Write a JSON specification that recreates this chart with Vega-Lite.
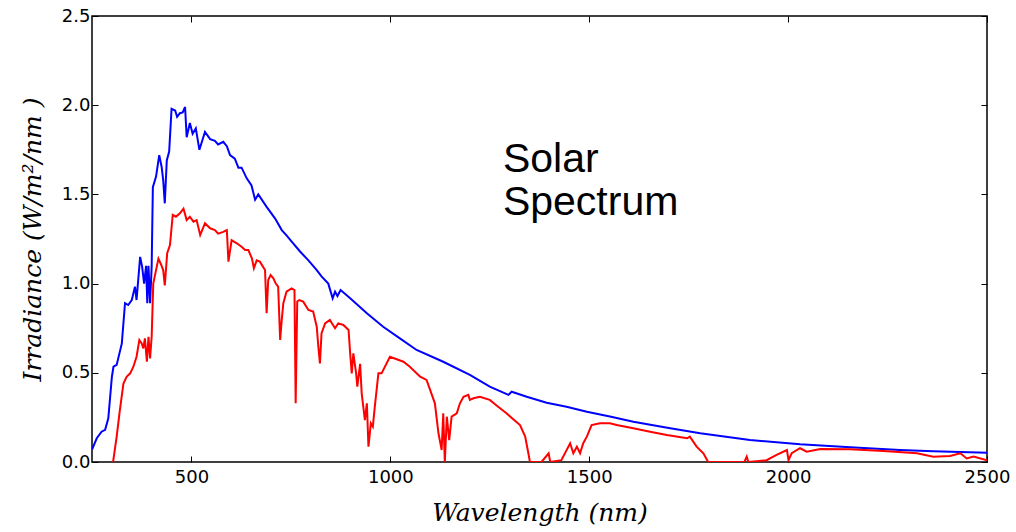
{
  "$schema": "https://vega.github.io/schema/vega-lite/v6.json",
  "width": 895,
  "height": 446,
  "autosize": {"type": "none"},
  "padding": {"left": 92, "top": 16, "right": 29, "bottom": 70},
  "background": "white",
  "config": {
    "view": {"stroke": "black", "strokeWidth": 1.5},
    "axis": {"grid": false, "domain": false, "labelFlush": false, "labelOverlap": false, "tickColor": "black", "tickSize": -6, "tickWidth": 1, "labelColor": "black", "labelFont": "DejaVu Sans", "labelFontSize": 18, "titleColor": "black", "titleFont": "DejaVu Serif", "titleFontStyle": "italic", "titleFontWeight": "normal", "titleFontSize": 25}
  },
  "datasets": {
    "blue": [
      {"nm":250,"irr":0.07},{"nm":262,"irr":0.133},{"nm":274,"irr":0.17},{"nm":283,"irr":0.18},{"nm":291,"irr":0.245},{"nm":300,"irr":0.478},{"nm":304,"irr":0.534},{"nm":312,"irr":0.544},{"nm":325,"irr":0.665},{"nm":333,"irr":0.89},{"nm":341,"irr":0.88},{"nm":350,"irr":0.908},{"nm":358,"irr":0.983},{"nm":362,"irr":0.908},{"nm":371,"irr":1.15},{"nm":376,"irr":1.095},{"nm":381,"irr":1.0},{"nm":386,"irr":1.1},{"nm":389,"irr":0.89},{"nm":392,"irr":1.1},{"nm":396,"irr":0.89},{"nm":400,"irr":1.095},{"nm":403,"irr":1.54},{"nm":411,"irr":1.6},{"nm":419,"irr":1.72},{"nm":425,"irr":1.655},{"nm":429,"irr":1.58},{"nm":433,"irr":1.45},{"nm":438,"irr":1.69},{"nm":444,"irr":1.74},{"nm":450,"irr":1.98},{"nm":459,"irr":1.97},{"nm":464,"irr":1.935},{"nm":471,"irr":1.955},{"nm":478,"irr":1.96},{"nm":484,"irr":1.99},{"nm":488,"irr":1.82},{"nm":496,"irr":1.9},{"nm":503,"irr":1.84},{"nm":511,"irr":1.87},{"nm":520,"irr":1.75},{"nm":534,"irr":1.85},{"nm":547,"irr":1.81},{"nm":559,"irr":1.8},{"nm":567,"irr":1.78},{"nm":580,"irr":1.795},{"nm":589,"irr":1.77},{"nm":597,"irr":1.72},{"nm":609,"irr":1.7},{"nm":618,"irr":1.65},{"nm":626,"irr":1.65},{"nm":639,"irr":1.59},{"nm":651,"irr":1.55},{"nm":660,"irr":1.47},{"nm":668,"irr":1.5},{"nm":689,"irr":1.43},{"nm":710,"irr":1.366},{"nm":727,"irr":1.3},{"nm":739,"irr":1.27},{"nm":752,"irr":1.235},{"nm":773,"irr":1.18},{"nm":794,"irr":1.13},{"nm":815,"irr":1.076},{"nm":827,"irr":1.04},{"nm":844,"irr":1.0},{"nm":855,"irr":0.918},{"nm":861,"irr":0.955},{"nm":867,"irr":0.93},{"nm":875,"irr":0.964},{"nm":899,"irr":0.918},{"nm":941,"irr":0.834},{"nm":982,"irr":0.758},{"nm":1024,"irr":0.693},{"nm":1066,"irr":0.628},{"nm":1133,"irr":0.562},{"nm":1200,"irr":0.488},{"nm":1250,"irr":0.422},{"nm":1297,"irr":0.376},{"nm":1305,"irr":0.394},{"nm":1343,"irr":0.366},{"nm":1393,"irr":0.332},{"nm":1443,"irr":0.31},{"nm":1494,"irr":0.282},{"nm":1552,"irr":0.255},{"nm":1611,"irr":0.226},{"nm":1700,"irr":0.19},{"nm":1779,"irr":0.161},{"nm":1904,"irr":0.123},{"nm":2030,"irr":0.099},{"nm":2156,"irr":0.082},{"nm":2281,"irr":0.067},{"nm":2365,"irr":0.06},{"nm":2500,"irr":0.052}
    ],
    "red": [
      {"nm":303,"irr":0.0},{"nm":312,"irr":0.142},{"nm":320,"irr":0.29},{"nm":329,"irr":0.44},{"nm":337,"irr":0.478},{"nm":346,"irr":0.497},{"nm":354,"irr":0.534},{"nm":362,"irr":0.59},{"nm":369,"irr":0.684},{"nm":375,"irr":0.665},{"nm":379,"irr":0.637},{"nm":383,"irr":0.693},{"nm":388,"irr":0.562},{"nm":392,"irr":0.702},{"nm":396,"irr":0.581},{"nm":400,"irr":0.702},{"nm":404,"irr":1.0},{"nm":417,"irr":1.14},{"nm":423,"irr":1.11},{"nm":429,"irr":1.076},{"nm":433,"irr":0.99},{"nm":439,"irr":1.17},{"nm":446,"irr":1.216},{"nm":453,"irr":1.385},{"nm":461,"irr":1.375},{"nm":471,"irr":1.394},{"nm":480,"irr":1.42},{"nm":488,"irr":1.356},{"nm":496,"irr":1.375},{"nm":505,"irr":1.347},{"nm":513,"irr":1.356},{"nm":522,"irr":1.272},{"nm":534,"irr":1.338},{"nm":547,"irr":1.31},{"nm":559,"irr":1.3},{"nm":567,"irr":1.28},{"nm":580,"irr":1.29},{"nm":589,"irr":1.3},{"nm":593,"irr":1.123},{"nm":601,"irr":1.244},{"nm":614,"irr":1.226},{"nm":626,"irr":1.207},{"nm":635,"irr":1.188},{"nm":643,"irr":1.188},{"nm":652,"irr":1.142},{"nm":657,"irr":1.086},{"nm":664,"irr":1.13},{"nm":672,"irr":1.123},{"nm":685,"irr":1.076},{"nm":689,"irr":0.834},{"nm":693,"irr":1.02},{"nm":699,"irr":1.048},{"nm":706,"irr":1.03},{"nm":712,"irr":1.0},{"nm":718,"irr":0.983},{"nm":723,"irr":0.684},{"nm":727,"irr":0.796},{"nm":731,"irr":0.89},{"nm":739,"irr":0.955},{"nm":752,"irr":0.973},{"nm":759,"irr":0.964},{"nm":762,"irr":0.33},{"nm":766,"irr":0.9},{"nm":771,"irr":0.908},{"nm":781,"irr":0.899},{"nm":794,"irr":0.852},{"nm":806,"irr":0.843},{"nm":815,"irr":0.758},{"nm":819,"irr":0.646},{"nm":823,"irr":0.553},{"nm":827,"irr":0.721},{"nm":836,"irr":0.777},{"nm":848,"irr":0.796},{"nm":861,"irr":0.75},{"nm":869,"irr":0.777},{"nm":882,"irr":0.768},{"nm":895,"irr":0.74},{"nm":899,"irr":0.609},{"nm":903,"irr":0.497},{"nm":907,"irr":0.609},{"nm":914,"irr":0.497},{"nm":917,"irr":0.422},{"nm":924,"irr":0.55},{"nm":928,"irr":0.385},{"nm":936,"irr":0.235},{"nm":941,"irr":0.329},{"nm":945,"irr":0.086},{"nm":951,"irr":0.217},{"nm":956,"irr":0.198},{"nm":961,"irr":0.31},{"nm":970,"irr":0.497},{"nm":978,"irr":0.497},{"nm":999,"irr":0.59},{"nm":1033,"irr":0.562},{"nm":1049,"irr":0.534},{"nm":1075,"irr":0.478},{"nm":1091,"irr":0.46},{"nm":1100,"irr":0.404},{"nm":1112,"irr":0.329},{"nm":1121,"irr":0.161},{"nm":1129,"irr":0.067},{"nm":1133,"irr":0.273},{"nm":1137,"irr":0.0},{"nm":1142,"irr":0.254},{"nm":1148,"irr":0.123},{"nm":1154,"irr":0.254},{"nm":1167,"irr":0.273},{"nm":1175,"irr":0.329},{"nm":1184,"irr":0.366},{"nm":1196,"irr":0.376},{"nm":1200,"irr":0.348},{"nm":1209,"irr":0.357},{"nm":1225,"irr":0.366},{"nm":1250,"irr":0.348},{"nm":1271,"irr":0.31},{"nm":1292,"irr":0.273},{"nm":1309,"irr":0.24},{"nm":1326,"irr":0.207},{"nm":1339,"irr":0.142},{"nm":1347,"irr":0.049},{"nm":1351,"irr":0.0},{"nm":1380,"irr":0.0},{"nm":1398,"irr":0.049},{"nm":1402,"irr":0.0},{"nm":1430,"irr":0.01},{"nm":1452,"irr":0.105},{"nm":1460,"irr":0.049},{"nm":1469,"irr":0.086},{"nm":1477,"irr":0.049},{"nm":1485,"irr":0.105},{"nm":1494,"irr":0.142},{"nm":1506,"irr":0.207},{"nm":1527,"irr":0.217},{"nm":1552,"irr":0.217},{"nm":1569,"irr":0.207},{"nm":1611,"irr":0.189},{"nm":1653,"irr":0.17},{"nm":1695,"irr":0.151},{"nm":1746,"irr":0.133},{"nm":1753,"irr":0.142},{"nm":1770,"irr":0.086},{"nm":1787,"irr":0.049},{"nm":1799,"irr":0.0},{"nm":1890,"irr":0.0},{"nm":1896,"irr":0.03},{"nm":1900,"irr":0.0},{"nm":1946,"irr":0.01},{"nm":1971,"irr":0.04},{"nm":1997,"irr":0.067},{"nm":2001,"irr":0.01},{"nm":2009,"irr":0.049},{"nm":2030,"irr":0.077},{"nm":2047,"irr":0.058},{"nm":2081,"irr":0.073},{"nm":2156,"irr":0.071},{"nm":2240,"irr":0.062},{"nm":2324,"irr":0.049},{"nm":2365,"irr":0.03},{"nm":2407,"irr":0.034},{"nm":2433,"irr":0.049},{"nm":2449,"irr":0.02},{"nm":2466,"irr":0.03},{"nm":2500,"irr":0.01}
    ],
    "note": [{"label": ["Solar", "Spectrum"], "nm": 1283, "irr": 1.626}]
  },
  "resolve": {"axis": {"x": "independent", "y": "independent"}},
  "layer": [
    {
      "data": {"name": "blue"},
      "mark": {"type": "line", "color": "#0000ff", "strokeWidth": 2, "clip": true},
      "encoding": {
        "x": {"field": "nm", "type": "quantitative", "scale": {"domain": [250, 2500], "nice": false, "zero": false},
              "axis": {"orient": "bottom", "values": [500, 1000, 1500, 2000, 2500], "format": "d", "title": "Wavelength (nm)", "labelPadding": 12, "titlePadding": 14}},
        "y": {"field": "irr", "type": "quantitative", "scale": {"domain": [0, 2.5], "nice": false, "zero": true},
              "axis": {"orient": "left", "values": [0, 0.5, 1, 1.5, 2, 2.5], "format": ".1f", "title": "Irradiance (W/m²/nm )", "labelPadding": 8, "titlePadding": 16}}
      }
    },
    {
      "data": {"name": "red"},
      "mark": {"type": "line", "color": "#ff0000", "strokeWidth": 2, "clip": true},
      "encoding": {
        "x": {"field": "nm", "type": "quantitative",
              "axis": {"orient": "top", "values": [500, 1000, 1500, 2000, 2500], "labels": false, "title": null}},
        "y": {"field": "irr", "type": "quantitative",
              "axis": {"orient": "right", "values": [0, 0.5, 1, 1.5, 2, 2.5], "labels": false, "title": null}}
      }
    },
    {
      "data": {"name": "note"},
      "mark": {"type": "text", "align": "left", "baseline": "alphabetic", "font": "Liberation Sans", "fontSize": 41, "lineHeight": 43, "color": "black"},
      "encoding": {
        "x": {"field": "nm", "type": "quantitative", "axis": null},
        "y": {"field": "irr", "type": "quantitative", "axis": null},
        "text": {"field": "label"}
      }
    }
  ]
}
